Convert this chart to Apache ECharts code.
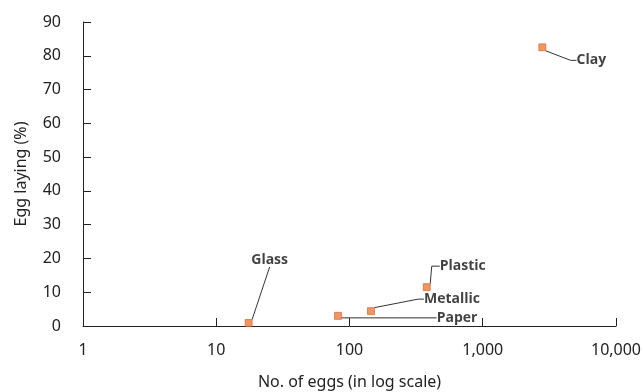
<!DOCTYPE html>
<html><head><meta charset="utf-8">
<script src="https://cdn.jsdelivr.net/npm/echarts@6/dist/echarts.min.js"></script>
<style>html,body{margin:0;padding:0;background:#fff}#c{width:643px;height:392px}</style>
</head><body><div id="c"></div>
<script>
const materials = ['Glass', 'Paper', 'Metallic', 'Plastic', 'Clay'];
const eggCounts = [17.5, 82, 145, 380, 2800];
const eggLaying = [0.9, 3.0, 4.4, 11.5, 82.5];
const xTicks = [1, 10, 100, 1000, 10000];
const yTicks = [0, 10, 20, 30, 40, 50, 60, 70, 80, 90];

// label placement (styling only)
const labelOffsets = {Glass:[21,-63,0], Paper:[119,2,0], Metallic:[81,-12,6], Plastic:[36,-21,8], Clay:[49,13,6]};

const chart = echarts.init(document.getElementById('c'));
const font = 'Noto Sans';
chart.setOption({
  animation: false,
  grid: {left: 83, right: 27, top: 22, bottom: 66, outerBoundsMode: 'none', containLabel: false},
  xAxis: {
    type: 'log', logBase: 10, min: xTicks[0], max: xTicks[xTicks.length-1],
    name: 'No. of eggs (in log scale)', nameLocation: 'middle', nameGap: 48,
    nameTextStyle: {fontFamily: font, fontSize: 16, color: '#222'},
    axisLine: {lineStyle: {color: '#222', width: 1}},
    axisTick: {inside: true, length: 8, lineStyle: {color: '#222'}},
    splitLine: {show: false},
    minorTick: {show: false},
    axisLabel: {fontFamily: font, fontSize: 16, color: '#222', margin: 16,
      formatter: v => Math.round(v).toLocaleString('en-US')}
  },
  yAxis: {
    type: 'value', min: yTicks[0], max: yTicks[yTicks.length-1], interval: 10,
    name: 'Egg laying (%)', nameLocation: 'middle', nameGap: 54,
    nameTextStyle: {fontFamily: font, fontSize: 16, color: '#222'},
    axisLine: {show: true, lineStyle: {color: '#222', width: 1}},
    axisTick: {show: true, inside: true, length: 8, lineStyle: {color: '#222'}},
    splitLine: {show: false},
    axisLabel: {fontFamily: font, fontSize: 16, color: '#222', margin: 22}
  },
  series: [{
    type: 'scatter',
    symbol: 'rect', symbolSize: 7,
    itemStyle: {color: '#EE7A3A', borderColor: '#D0602A', borderWidth: 0.8},
    data: materials.map((m, i) => ({name: m, value: [eggCounts[i], eggLaying[i]],
      labelLine: {show: true, length2: labelOffsets[m][2], lineStyle: {color: '#333', width: 1}}})),
    label: {show: true, position: 'inside', formatter: p => p.name,
      fontFamily: 'Open Sans', fontWeight: 'bold', fontSize: 14, color: '#111'},
    labelLine: {show: true, lineStyle: {color: '#333', width: 1}},
    labelLayout: p => { const o = labelOffsets[materials[p.dataIndex]]; return {dx: o[0], dy: o[1]}; }
  }]
});
</script></body></html>
